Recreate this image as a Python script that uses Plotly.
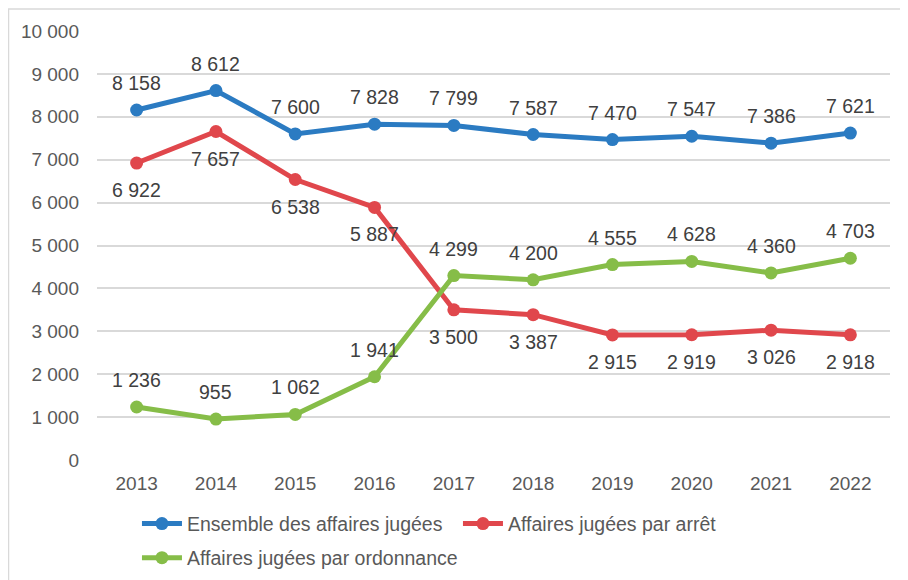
import plotly.graph_objects as go

years = ["2013", "2014", "2015", "2016", "2017", "2018", "2019", "2020", "2021", "2022"]
ensemble = [8158, 8612, 7600, 7828, 7799, 7587, 7470, 7547, 7386, 7621]
arret = [6922, 7657, 6538, 5887, 3500, 3387, 2915, 2919, 3026, 2918]
ordonnance = [1236, 955, 1062, 1941, 4299, 4200, 4555, 4628, 4360, 4703]

names = ["Ensemble des affaires jugées", "Affaires jugées par arrêt", "Affaires jugées par ordonnance"]
colors = ["#2B7BC2", "#E0474C", "#86BD48"]
series = [ensemble, arret, ordonnance]
label_shift = [27, -27, 27]
legend_ids = ["legend", "legend", "legend2"]

y_ticks = list(range(0, 10001, 1000))
y_ticktext = [f"{v:,}".replace(",", " ") for v in y_ticks]

FONT = "Liberation Sans, Arial, sans-serif"
TXT = "#595959"

fig = go.Figure()
annotations = []
for name, col, vals, sh, lg in zip(names, colors, series, label_shift, legend_ids):
    fig.add_trace(go.Scatter(
        x=years, y=vals, name=name, mode="lines+markers",
        line=dict(color=col, width=5),
        marker=dict(color=col, size=13),
        legend=lg,
    ))
    for i, v in enumerate(vals):
        annotations.append(dict(
            x=i, y=v, xref="x", yref="y", text=f"{v:,}".replace(",", " "),
            showarrow=False, yshift=sh,
            font=dict(family=FONT, size=19.5, color="#404040"),
        ))

legend_common = dict(
    orientation="h", xanchor="left", yanchor="middle",
    entrywidth=266, entrywidthmode="pixels",
    font=dict(family=FONT, size=19.5, color=TXT),
    itemwidth=40, bgcolor="rgba(0,0,0,0)",
)

fig.update_layout(
    width=900, height=620,
    margin=dict(l=89, r=18, t=23, b=168),
    paper_bgcolor="white", plot_bgcolor="white",
    font=dict(family=FONT, size=19, color=TXT),
    showlegend=True,
    legend=dict(x=0.0504, y=-0.149, **legend_common),
    legend2=dict(x=0.0504, y=-0.2284, **legend_common),
    annotations=annotations,
    shapes=[dict(type="rect", xref="paper", yref="paper",
                 x0=-0.1116, x1=1.05, y0=-0.5, y1=1.0513,
                 line=dict(color="#D9D9D9", width=1.5), layer="below")],
)
fig.update_xaxes(
    type="category", range=[-0.5, 9.5], showgrid=False, zeroline=False,
    showline=False, ticks="", ticklabelstandoff=10,
    tickfont=dict(family=FONT, size=19, color=TXT),
)
fig.update_yaxes(
    range=[0, 10000], tickvals=y_ticks, ticktext=y_ticktext,
    showgrid=True, gridcolor="#D9D9D9", gridwidth=1.5, zeroline=False,
    showline=False, ticks="", ticklabelstandoff=17,
    tickfont=dict(family=FONT, size=19, color=TXT),
)

fig.write_html("out.html")
